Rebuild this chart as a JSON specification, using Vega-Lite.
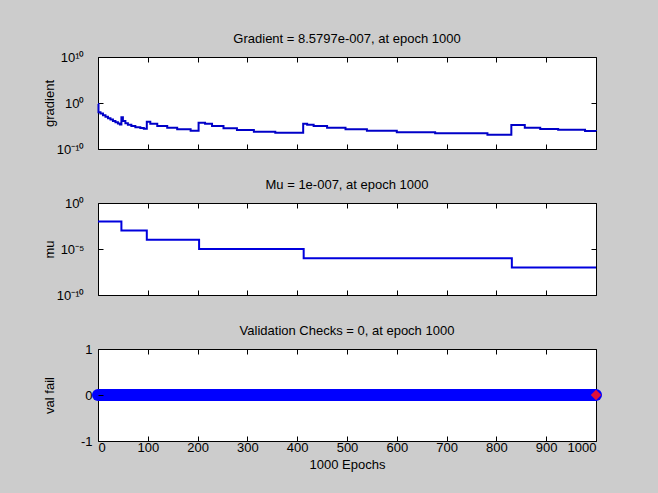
{
  "$schema": "https://vega.github.io/schema/vega-lite/v6.json",
  "background": "#cccccc",
  "padding": {"left": 42, "top": 32, "right": 62, "bottom": 22},
  "spacing": 21,
  "datasets": {
    "grad": [
      {"epoch": 0, "gradient": 0.631},
      {"epoch": 1, "gradient": 0.01},
      {"epoch": 5, "gradient": 0.005},
      {"epoch": 10, "gradient": 0.00224},
      {"epoch": 15, "gradient": 0.001},
      {"epoch": 20, "gradient": 0.0005},
      {"epoch": 25, "gradient": 0.00025},
      {"epoch": 30, "gradient": 0.000126},
      {"epoch": 35, "gradient": 0.000063},
      {"epoch": 40, "gradient": 0.0000355},
      {"epoch": 44, "gradient": 0.0000224},
      {"epoch": 47, "gradient": 0.00079},
      {"epoch": 50, "gradient": 0.000126},
      {"epoch": 55, "gradient": 0.00004},
      {"epoch": 60, "gradient": 0.0000178},
      {"epoch": 67, "gradient": 0.00001},
      {"epoch": 75, "gradient": 0.0000056},
      {"epoch": 85, "gradient": 0.00000355},
      {"epoch": 92, "gradient": 0.0000025},
      {"epoch": 98, "gradient": 0.000087},
      {"epoch": 105, "gradient": 0.000032},
      {"epoch": 119, "gradient": 0.00001},
      {"epoch": 139, "gradient": 0.0000044},
      {"epoch": 159, "gradient": 0.000002},
      {"epoch": 186, "gradient": 0.00000089},
      {"epoch": 202, "gradient": 0.000052},
      {"epoch": 215, "gradient": 0.000032},
      {"epoch": 229, "gradient": 0.00001},
      {"epoch": 252, "gradient": 0.0000032},
      {"epoch": 279, "gradient": 0.00000135},
      {"epoch": 313, "gradient": 0.00000059},
      {"epoch": 356, "gradient": 0.00000035},
      {"epoch": 412, "gradient": 0.000032},
      {"epoch": 420, "gradient": 0.0000178},
      {"epoch": 433, "gradient": 0.00001},
      {"epoch": 460, "gradient": 0.0000044},
      {"epoch": 497, "gradient": 0.0000019},
      {"epoch": 540, "gradient": 0.00000089},
      {"epoch": 600, "gradient": 0.00000045},
      {"epoch": 677, "gradient": 0.00000026},
      {"epoch": 782, "gradient": 0.00000013},
      {"epoch": 830, "gradient": 0.0000166},
      {"epoch": 857, "gradient": 0.0000043},
      {"epoch": 888, "gradient": 0.0000022},
      {"epoch": 924, "gradient": 0.0000016},
      {"epoch": 978, "gradient": 0.00000086},
      {"epoch": 1000, "gradient": 0.00000085797}
    ],
    "mu": [
      {"epoch": 0, "mu": 0.01},
      {"epoch": 47, "mu": 0.001},
      {"epoch": 98, "mu": 0.0001},
      {"epoch": 203, "mu": 0.00001},
      {"epoch": 413, "mu": 0.000001},
      {"epoch": 831, "mu": 0.0000001},
      {"epoch": 1000, "mu": 0.0000001}
    ],
    "val": [
      {"epoch": 0, "val_fail": 0},
      {"epoch": 100, "val_fail": 0},
      {"epoch": 200, "val_fail": 0},
      {"epoch": 300, "val_fail": 0},
      {"epoch": 400, "val_fail": 0},
      {"epoch": 500, "val_fail": 0},
      {"epoch": 600, "val_fail": 0},
      {"epoch": 700, "val_fail": 0},
      {"epoch": 800, "val_fail": 0},
      {"epoch": 900, "val_fail": 0},
      {"epoch": 1000, "val_fail": 0}
    ],
    "best": [
      {"epoch": 1000, "val_fail": 0}
    ]
  },
  "vconcat": [
    {
      "title": "Gradient = 8.5797e-007, at epoch 1000",
      "width": 498,
      "height": 92,
      "data": {"name": "grad"},
      "layer": [
        {
          "mark": {"type": "line", "color": "#0000c8", "strokeWidth": 2, "interpolate": "step-after"},
          "encoding": {
            "x": {"field": "epoch", "type": "quantitative", "scale": {"domain": [0, 1000], "nice": false},
              "axis": {"orient": "bottom", "values": [0,100,200,300,400,500,600,700,800,900,1000], "labels": false, "title": null}},
            "y": {"field": "gradient", "type": "quantitative", "scale": {"type": "log", "domain": [1e-10, 1e10]},
              "axis": {"orient": "left", "values": [1e-10, 1, 1e10], "labelExpr": "datum.value > 1e5 ? '10¹⁰' : datum.value > 1e-5 ? '10⁰' : '10⁻¹⁰'",
                "title": "gradient", "minExtent": 38, "maxExtent": 38, "titlePadding": 4, "labelPadding": 19}}
          }
        },
        {
          "mark": {"type": "line", "opacity": 0, "interpolate": "step-after"},
          "encoding": {
            "x": {"field": "epoch", "type": "quantitative", "scale": {"domain": [0, 1000], "nice": false},
              "axis": {"orient": "top", "values": [0,100,200,300,400,500,600,700,800,900,1000], "labels": false, "title": null}},
            "y": {"field": "gradient", "type": "quantitative", "scale": {"type": "log", "domain": [1e-10, 1e10]},
              "axis": {"orient": "right", "values": [1e-10, 1, 1e10], "labels": false, "title": null}}
          }
        }
      ],
      "resolve": {"axis": {"x": "independent", "y": "independent"}}
    },
    {
      "title": "Mu = 1e-007, at epoch 1000",
      "width": 498,
      "height": 92,
      "data": {"name": "mu"},
      "layer": [
        {
          "mark": {"type": "line", "color": "#0000dd", "strokeWidth": 2, "interpolate": "step-after"},
          "encoding": {
            "x": {"field": "epoch", "type": "quantitative", "scale": {"domain": [0, 1000], "nice": false},
              "axis": {"orient": "bottom", "values": [0,100,200,300,400,500,600,700,800,900,1000], "labels": false, "title": null}},
            "y": {"field": "mu", "type": "quantitative", "scale": {"type": "log", "domain": [1e-10, 1]},
              "axis": {"orient": "left", "values": [1e-10, 1e-5, 1], "labelExpr": "datum.value > 0.01 ? '10⁰' : datum.value > 1e-8 ? '10⁻⁵' : '10⁻¹⁰'",
                "title": "mu", "minExtent": 38, "maxExtent": 38, "titlePadding": 4, "labelPadding": 19}}
          }
        },
        {
          "mark": {"type": "line", "opacity": 0, "interpolate": "step-after"},
          "encoding": {
            "x": {"field": "epoch", "type": "quantitative", "scale": {"domain": [0, 1000], "nice": false},
              "axis": {"orient": "top", "values": [0,100,200,300,400,500,600,700,800,900,1000], "labels": false, "title": null}},
            "y": {"field": "mu", "type": "quantitative", "scale": {"type": "log", "domain": [1e-10, 1]},
              "axis": {"orient": "right", "values": [1e-10, 1e-5, 1], "labels": false, "title": null}}
          }
        }
      ],
      "resolve": {"axis": {"x": "independent", "y": "independent"}}
    },
    {
      "title": "Validation Checks = 0, at epoch 1000",
      "width": 498,
      "height": 92,
      "layer": [
        {
          "data": {"name": "val"},
          "mark": {"type": "line", "color": "#0000ff", "strokeWidth": 12, "strokeCap": "round"},
          "encoding": {
            "x": {"field": "epoch", "type": "quantitative", "scale": {"domain": [0, 1000], "nice": false},
              "axis": {"orient": "bottom", "values": [0,100,200,300,400,500,600,700,800,900,1000], "format": "d", "title": "1000 Epochs", "labelPadding": 5, "titlePadding": 4}},
            "y": {"field": "val_fail", "type": "quantitative", "scale": {"domain": [-1, 1], "nice": false},
              "axis": {"orient": "left", "values": [-1, 0, 1], "labelExpr": "datum.value > 0.5 ? '1' : datum.value < -0.5 ? '-1' : '0'", "labelOverlap": false, "labelBound": false, "title": "val fail", "minExtent": 38, "maxExtent": 38, "titlePadding": 4, "labelPadding": 11, "zindex": 2}}
          }
        },
        {
          "data": {"name": "best"},
          "mark": {"type": "point", "shape": "diamond", "filled": true, "color": "#e0103c", "size": 110, "opacity": 1},
          "encoding": {
            "x": {"field": "epoch", "type": "quantitative", "scale": {"domain": [0, 1000], "nice": false},
              "axis": {"orient": "top", "values": [0,100,200,300,400,500,600,700,800,900,1000], "labels": false, "title": null}},
            "y": {"field": "val_fail", "type": "quantitative", "scale": {"domain": [-1, 1], "nice": false},
              "axis": {"orient": "right", "values": [-1, 0, 1], "labels": false, "title": null}}
          }
        }
      ],
      "resolve": {"axis": {"x": "independent", "y": "independent"}}
    }
  ],
  "config": {
    "font": "Liberation Sans",
    "view": {"fill": "white", "stroke": "black", "strokeWidth": 1},
    "axis": {
      "grid": false,
      "domain": false,
      "tickSize": -5,
      "tickColor": "black",
      "labelFont": "Liberation Sans",
      "labelFontSize": 13,
      "labelColor": "black",
      "titleFont": "Liberation Sans",
      "titleFontSize": 13,
      "titleFontWeight": "normal",
      "titleColor": "black"
    },
    "title": {"font": "Liberation Sans", "fontSize": 13, "fontWeight": "normal", "color": "black", "offset": 5, "baseline": "bottom"}
  }
}
